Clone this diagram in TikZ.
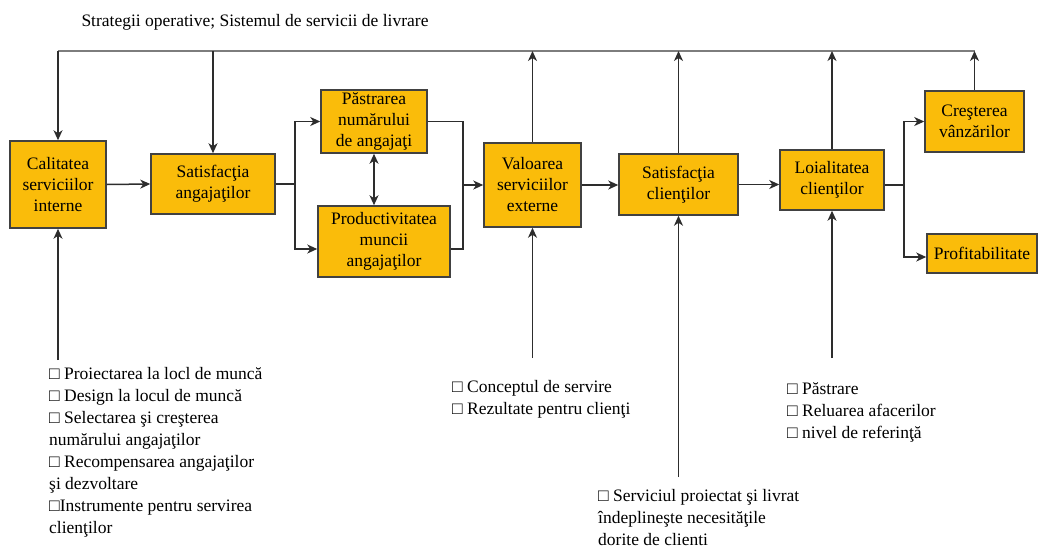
\documentclass[tikz,border=0pt]{standalone}
\usepackage{fontspec}
\setmainfont{Liberation Serif}
\usetikzlibrary{arrows.meta}
\definecolor{boxfill}{RGB}{250,188,10}
\definecolor{boxline}{RGB}{65,65,65}
\definecolor{wire}{RGB}{45,45,45}
\definecolor{busline}{RGB}{125,125,125}
\begin{document}
\begin{tikzpicture}[x=1pt,y=-1pt,
  font=\fontsize{17.5}{21}\selectfont,
  block/.style={draw=boxline,fill=boxfill,line width=1.5pt,align=center,inner sep=0pt},
  wireline/.style={draw=wire,line width=1.5pt},
  tip/.tip={Stealth[length=10pt,width=9pt,inset=3pt]},
  arr/.style={wireline,-tip},
  dblarr/.style={wireline,tip-tip},
  bus/.style={draw=busline,line width=2pt},
  list/.style={anchor=north west,align=left,inner sep=0pt,font=\fontsize{17.5}{22}\selectfont}]
\useasboundingbox (0,0) rectangle (1039,549);

% heading over the feedback bus
\node (head) at (255,22) {Strategii operative; Sistemul de servicii de livrare};

% chain of blocks
\node[block,minimum width=96pt,minimum height=87pt] (cal) at (58,184.5) {Calitatea\\serviciilor\\interne};
\node[block,minimum width=124pt,minimum height=60pt] (sang) at (213,184) {Satisfacţia\\angajaţilor};
\node[block,minimum width=106pt,minimum height=63pt] (pastr) at (374,121.5) {Păstrarea\\numărului\\de angajaţi};
\node[block,minimum width=132pt,minimum height=71pt] (prod) at (384,241.5) {Productivitatea\\muncii\\angajaţilor};
\node[block,minimum width=97pt,minimum height=84pt] (val) at (532.5,185) {Valoarea\\serviciilor\\externe};
\node[block,minimum width=119pt,minimum height=61pt] (scli) at (678.5,184.5) {Satisfacţia\\clienţilor};
\node[block,minimum width=104pt,minimum height=60pt] (loial) at (832,180) {Loialitatea\\clienţilor};
\node[block,minimum width=99pt,minimum height=61pt] (cres) at (974.5,121.5) {Creşterea\\vânzărilor};
\node[block,minimum width=110pt,minimum height=39pt] (prof) at (982,253.5) {Profitabilitate};

% feedback bus along the top
\coordinate (busL) at (58,51);
\coordinate (busR) at (cres.north |- busL);
\draw[bus] (busL) -- (busR);
\draw[arr] (busL) -- (cal.north);
\draw[arr] (sang.north |- busL) -- (sang.north);
\draw[arr] (val.north) -- (val.north |- busL);
\draw[arr] (scli.north) -- (scli.north |- busL);
\draw[arr] (loial.north) -- (loial.north |- busL);
\draw[arr] (cres.north) -- (busR);

% main flow
\draw[arr] (cal.east) -- (sang.west);
\coordinate (splitA) at (295,184);
\draw[wireline] (sang.east) -- (splitA);
\draw[arr] (splitA) |- (pastr.west);
\draw[arr] (splitA) |- ([yshift=-7.5pt]prod.west);
\draw[dblarr] (pastr.south) -- (pastr.south |- prod.north);
\coordinate (joinB) at (463,185);
\draw[wireline] (pastr.east) -| (joinB);
\draw[wireline] ([yshift=-7.5pt]prod.east) -| (joinB);
\draw[arr] (joinB) -- (val.west);
\draw[arr] (val.east) -- (val.east -| scli.west);
\draw[arr] (scli.east) -- (scli.east -| loial.west);
\coordinate (splitC) at (904,185);
\draw[wireline] ([yshift=-5pt]loial.east) -- (splitC);
\draw[arr] (splitC) |- (cres.west);
\draw[arr] (splitC) |- ([yshift=-3.5pt]prof.west);

% drivers feeding the chain from below
\coordinate (inCal) at (58,360);
\coordinate (inVal) at (532.5,358);
\coordinate (inScli) at (678.5,477);
\coordinate (inLoial) at (832,358);
\draw[arr] (inCal) -- (cal.south);
\draw[arr] (inVal) -- (val.south);
\draw[arr] (inScli) -- (scli.south);
\draw[arr] (inLoial) -- (loial.south);

% driver lists
\node[list] (listCal) at (49,367) {□ Proiectarea la locl de muncă\\□ Design la locul de muncă\\□ Selectarea şi creşterea\\numărului angajaţilor\\□ Recompensarea angajaţilor\\şi dezvoltare\\□Instrumente pentru servirea\\clienţilor};
\node[list] (listVal) at (452,380) {□ Conceptul de servire\\□ Rezultate pentru clienţi};
\node[list] (listScli) at (598,489) {□ Serviciul proiectat şi livrat\\îndeplineşte necesităţile\\dorite de clienti};
\node[list] (listLoial) at (787,382) {□ Păstrare\\□ Reluarea afacerilor\\□ nivel de referinţă};
\end{tikzpicture}
\end{document}
